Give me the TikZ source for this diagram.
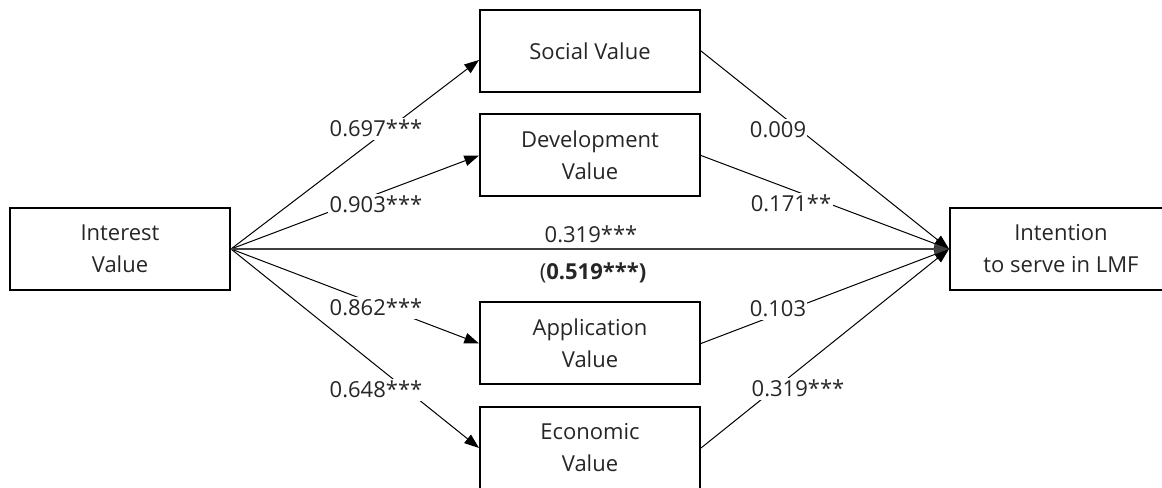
\documentclass[tikz,border=0pt]{standalone}
\usepackage{fontspec}
\setmainfont{Open Sans}
\usetikzlibrary{arrows.meta}

\begin{document}
\begin{tikzpicture}[
        x=0.75pt, y=0.75pt,
        font=\fontsize{16.5}{24}\selectfont,
    ]

    \tikzstyle{box} = [rectangle, minimum width=165pt, minimum height=61.5pt,
                       align=center, draw=black, line width=1.5pt, text=ink];
    \tikzstyle{coef} = [anchor=base, fill=white, inner xsep=1pt, inner ysep=2pt, text=ink];
    \tikzstyle{path} = [-{Triangle[length=11pt, width=8pt]}, line width=0.75pt];

    \definecolor{ink}{RGB}{38,38,38}

    \clip (0,0) rectangle (1162,488);

    % Nodes
    \node[box] (interest) at (120,239) {Interest\\Value};
    \node[box] (social) at (590,437) {Social Value};
    \node[box] (development) at (590,332.5) {Development\\Value};
    \node[box] (application) at (590,144.5) {Application\\Value};
    \node[box] (economic) at (590,40) {Economic\\Value};
    \node[box, minimum width=166.5pt] (intention) at (1061,239) {Intention\\to serve in LMF};

    % Arrows
    \draw[path] (interest.east) -- ([yshift=-6.75pt]social.west);
    \draw[path] (interest.east) -- (development.west);
    \draw[path] (interest.east) -- (application.west);
    \draw[path] (interest.east) -- (economic.west);
    \draw[path] (social.east) -- (intention.west);
    \draw[path] (development.east) -- (intention.west);
    \draw[path] (application.east) -- (intention.west);
    \draw[path] (economic.east) -- (intention.west);
    \draw[path, draw=black!75, line width=1pt] (interest.east) -- (intention.west);

    % Path coefficients
    \node[coef] (c-social) at (376,351) {0.697***};
    \node[coef] (c-development) at (376,275) {0.903***};
    \node[coef] (c-application) at (376,172) {0.862***};
    \node[coef] (c-economic) at (376,90) {0.648***};
    \node[coef, fill=none] (c-direct) at (591,245) {0.319***};
    \node[coef, fill=none] (c-total) at (593,208) {(\textbf{0.519***)}};
    \node[coef] (d-social) at (778,350) {0.009};
    \node[coef] (d-development) at (791,276) {0.171**};
    \node[coef] (d-application) at (778,171) {0.103};
    \node[coef] (d-economic) at (798,91) {0.319***};

\end{tikzpicture}
\end{document}
